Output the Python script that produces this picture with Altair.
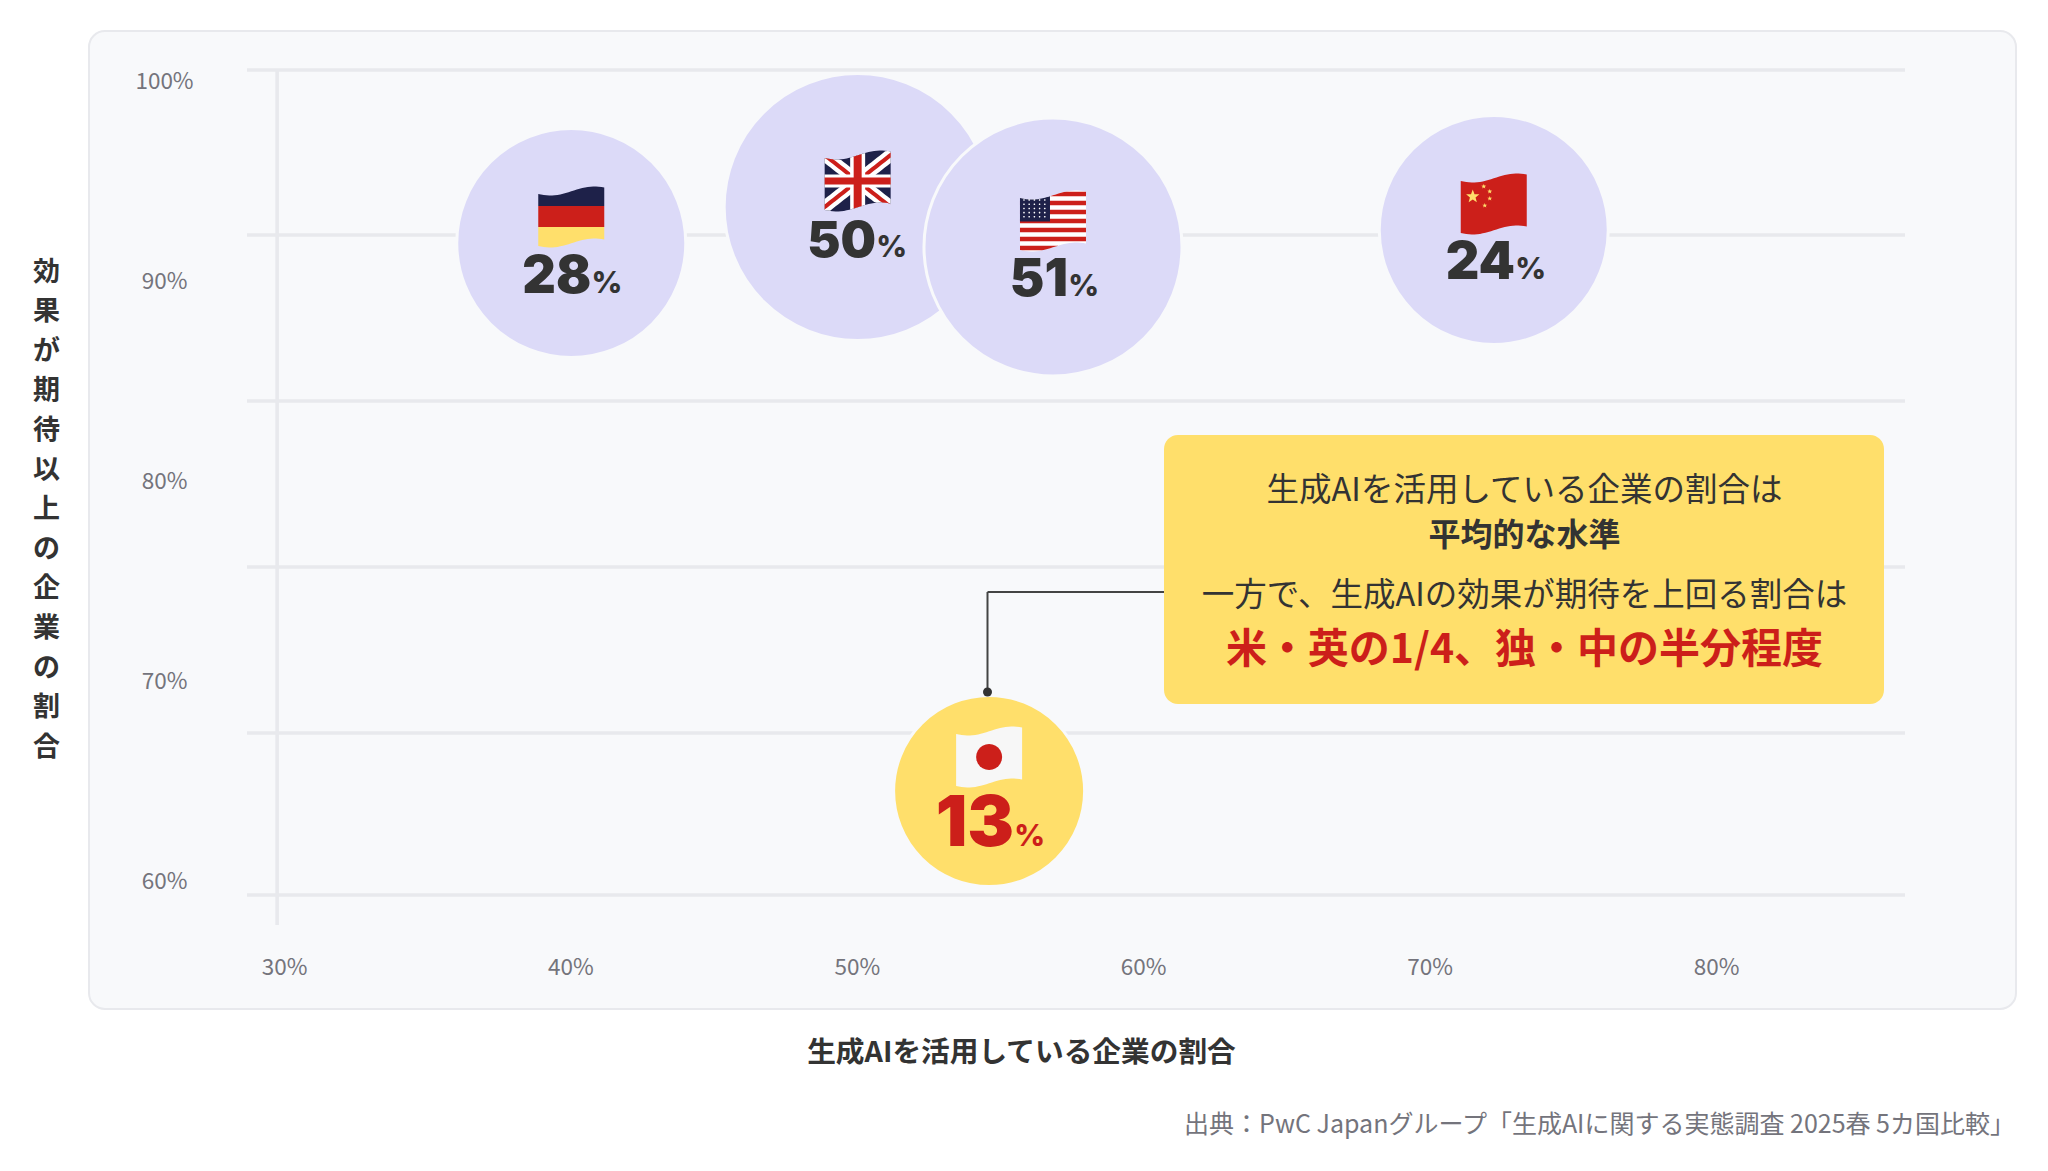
import math
import altair as alt
import pandas as pd

countries = ["ドイツ", "英国", "中国", "日本", "米国"]
adoption = [40.03, 50.03, 72.24, 54.62, 56.85]
effect = [91.9, 93.7, 92.55, 64.5, 91.7]
share = [28, 50, 24, 13, 51]
diameters = [226, 264, 226, 188, 255]
x_ticks = [30, 40, 50, 60, 70, 80]
y_ticks = [60, 70, 80, 90, 100]
grid_levels = [100.55, 92.3, 84.0, 75.7, 67.4, 59.3]
axis_line_at = [29.76]
x_title = "生成AIを活用している企業の割合"
y_title = list("効果が期待以上の企業の割合")
source_text = "出典：PwC Japanグループ「生成AIに関する実態調査 2025春 5カ国比較」"
card_lines = ["生成AIを活用している企業の割合は", "平均的な水準", "一方で、生成AIの効果が期待を上回る割合は", "米・英の1/4、独・中の半分程度"]

W, H = 2032, 1155
JP = "Noto Sans CJK JP"
NUM = "Inter"
DARK = "#333333"
RED = "#cc1f1a"
YEL = "#ffdf6b"
LAV = "#dcdaf8"
NAVY = "#1e2149"
LINE = "#e8e9ed"
GREY = "#74747c"
PANEL = "#f8f9fb"

def px(v):
    return v - 8

xscale = alt.Scale(domain=[30 - 276 / 28.64, 30 + 1756 / 28.64], range=[0, W], nice=False, zero=False, clamp=False)
yscale = alt.Scale(domain=[100 + 73 / 20, 100 - 1082 / 20], range=[0, H], nice=False, zero=False)
xaxis = alt.Axis(values=x_ticks, labelExpr="datum.value + '%'", grid=False, domain=False, ticks=False,
                 orient="bottom", offset=-196, labelPadding=0, labelBaseline="middle", labelFont=JP,
                 labelFontSize=22.5, labelColor=GREY, labelFontWeight=400, zindex=1,
                 title=x_title, titleFont=JP, titleFontSize=28.7, titleFontWeight=700, titleColor=DARK,
                 titleX=1013, titleY=85, titleBaseline="middle", titleAlign="center", labelFlush=False, labelOverlap=False)
yaxis = alt.Axis(values=y_ticks, labelExpr="datum.value + '%'", grid=False, domain=False, ticks=False,
                 orient="left", offset=-156, labelPadding=0, labelOffset=0.6, labelAlign="center", labelBaseline="middle", labelFont=JP,
                 labelFontSize=22.5, labelColor=GREY, labelFontWeight=400, zindex=1,
                 title=y_title, titleFont=JP, titleFontSize=27, titleFontWeight=700, titleColor=DARK,
                 titleX=-118, titleY=264, titleAngle=0, titleBaseline="middle", titleAlign="center",
                 titleLineHeight=39.6, labelFlush=False, labelOverlap=False)
X = alt.X("x:Q", scale=xscale, axis=xaxis)
Y = alt.Y("y:Q", scale=yscale, axis=yaxis)

bubbles = pd.DataFrame({"country": countries, "x": adoption, "y": effect, "share": share, "d": diameters})

# --- flag glyphs, drawn in px around the flag's centre, normalised to the -1..1 symbol box
FW = 66.0
def top_w(u, hh=26.0):
    t = (u + 33) / 66
    return -hh + 4.5 * math.cos(math.pi * (t - 0.18) / 0.67)
def bot_w(u, hh=26.0):
    return top_w(u, hh) + 2 * hh

def band(x0, x1, ftop, fbot, n=24, hh=26.0):
    us = [x0 + (x1 - x0) * i / n for i in range(n + 1)]
    up = [(u, max(ftop(u), top_w(u, hh))) for u in us]
    lo = [(u, min(fbot(u), bot_w(u, hh))) for u in us]
    lo = [(u, max(v, up[i][1])) for i, (u, v) in enumerate(lo)]
    pts = up + lo[::-1]
    return "M" + "L".join(f"{a/33:.3f},{b/33:.3f}" for a, b in pts) + "Z"

def rectband(y0, y1, x0=-33, x1=33, hh=26.0):
    return band(x0, x1, lambda u: y0, lambda u: y1, hh=hh)

def circle_path(cx, cy, r, n=24):
    return "M" + "L".join(f"{(cx+r*math.cos(2*math.pi*i/n))/33:.3f},{(cy+r*math.sin(2*math.pi*i/n))/33:.3f}" for i in range(n)) + "Z"

def star(cx, cy, r):
    pts = []
    for i in range(10):
        rr = r if i % 2 == 0 else r * 0.42
        a = -math.pi / 2 + i * math.pi / 5
        pts.append(f"{(cx+rr*math.cos(a))/33:.3f},{(cy+rr*math.sin(a))/33:.3f}")
    return "M" + "L".join(pts) + "Z"

def diag(sign, half):
    return band(-33, 33, lambda u: sign * u * 26 / 33 - half, lambda u: sign * u * 26 / 33 + half)

flags = {
    "ドイツ": [
        (rectband(-40, -11), NAVY),
        (rectband(-11, 10), RED),
        (rectband(10, 40), YEL),
    ],
    "英国": [
        (rectband(-40, 40), NAVY),
        (diag(1, 8), "#ffffff"),
        (diag(-1, 8), "#ffffff"),
        (diag(1, 2.6), RED),
        (diag(-1, 2.6), RED),
        (rectband(-40, 40, -7.5, 7.5), "#ffffff"),
        (rectband(-6.5, 6.5), "#ffffff"),
        (rectband(-40, 40, -4, 4), RED),
        (rectband(-3.5, 3.5), RED),
    ],
    "米国": [
        (rectband(-40, 40), "#ffffff"),
        ("".join(rectband(c - 2.3, c + 2.3) for c in [-27, -18, -9, 0, 9, 18, 27]), RED),
        (rectband(-40, 0.5, -33, -3), NAVY),
        ("".join(circle_path(-29 + 5.2 * i, -21 + 4.2 * j, 0.9, 6) for i in range(5) for j in range(5)), "#ffffff"),
    ],
    "中国": [
        (rectband(-40, 40), RED),
        (star(-21, -7.5, 7), YEL),
        ("".join(star(a, b, 2.6) for a, b in [(-10, -17.5), (-4, -12.5), (-4, -5.5), (-9, 1.5)]), YEL),
    ],
    "日本": [
        (rectband(-40, 40), "#f7f7f7"),
        (circle_path(0, 0, 13), RED),
    ],
}
flag_dy = {"ドイツ": -26, "英国": -26, "米国": -26, "中国": -26, "日本": -34}
num_end = {"ドイツ": 20, "英国": 18.5, "米国": 15, "中国": 21.2, "日本": 25}
num_size = {"ドイツ": 52, "英国": 50, "米国": 52, "中国": 52, "日本": 70}
pct_size = {"ドイツ": 30, "英国": 30, "米国": 30, "中国": 30, "日本": 30}
num_dy = {"ドイツ": 50, "英国": 50, "米国": 49, "中国": 49, "日本": 55}

layers = []
one = pd.DataFrame({"a": [0]})

# panel
layers.append(alt.Chart(one).mark_rect(fill=PANEL, stroke=LINE, strokeWidth=2, cornerRadius=16).encode(
    x=alt.value(px(89)), x2=alt.value(px(2016)), y=alt.value(px(31)), y2=alt.value(px(1009))))

# source text
layers.append(alt.Chart(one).mark_text(text=source_text, font=JP, fontSize=25, fontWeight=400, color=GREY, align="right", baseline="middle").encode(
    x=alt.value(px(2015)), y=alt.value(px(1125))))

# gridlines
layers.append(alt.Chart(pd.DataFrame({"y": grid_levels})).mark_rule(color=LINE, strokeWidth=3.6).encode(
    y=Y, x=alt.value(px(247)), x2=alt.value(px(1905))))
layers.append(alt.Chart(pd.DataFrame({"x": axis_line_at})).mark_rule(color=LINE, strokeWidth=3.6).encode(
    x=X, y=alt.value(px(69)), y2=alt.value(px(925))))

# bubbles
for i, c in enumerate(countries):
    row = bubbles[bubbles.country == c]
    d = diameters[i]
    sw = 3
    layers.append(alt.Chart(row).mark_circle(opacity=1, fill=YEL if c == "日本" else LAV, stroke=PANEL,
                                             strokeWidth=sw, size=(d + sw) ** 2).encode(x=X, y=Y))
    for path, col in flags[c]:
        layers.append(alt.Chart(row).mark_point(shape=path, filled=True, fill=col, opacity=1, strokeWidth=0,
                                                size=FW ** 2, yOffset=flag_dy[c]).encode(x=X, y=Y))
    col = RED if c == "日本" else DARK
    layers.append(alt.Chart(row).mark_text(font=NUM, fontWeight=900, fontSize=num_size[c], color=col, align="right",
                                           baseline="alphabetic", dx=num_end[c], dy=num_dy[c]).encode(x=X, y=Y, text=alt.Text("share:Q")))
    layers.append(alt.Chart(row).mark_text(text="%", font=NUM, fontWeight=800, fontSize=pct_size[c], color=col, align="left",
                                           baseline="alphabetic", dx=num_end[c] + 0.2, dy=num_dy[c]).encode(x=X, y=Y))

# connector
layers.append(alt.Chart(one).mark_rule(color="#444444", strokeWidth=2).encode(
    x=alt.value(px(987.5)), x2=alt.value(px(1165)), y=alt.value(px(592))))
layers.append(alt.Chart(one).mark_rule(color="#444444", strokeWidth=2).encode(
    x=alt.value(px(987.5)), y=alt.value(px(592)), y2=alt.value(px(692))))
layers.append(alt.Chart(one).mark_circle(color="#333333", opacity=1, size=81).encode(
    x=alt.value(px(987.5)), y=alt.value(px(692))))

# card
layers.append(alt.Chart(one).mark_rect(fill=YEL, cornerRadius=14).encode(
    x=alt.value(px(1164)), x2=alt.value(px(1884)), y=alt.value(px(435)), y2=alt.value(px(704))))
card_style = [(32.5, 400, DARK, 491), (32, 700, DARK, 536), (32.5, 400, DARK, 596), (41, 700, RED, 651)]
for line, (fs, fw, col, yy) in zip(card_lines, card_style):
    layers.append(alt.Chart(one).mark_text(text=line, font=JP, fontSize=fs, fontWeight=fw, color=col, align="center", baseline="middle").encode(
        x=alt.value(px(1524.5)), y=alt.value(px(yy))))

chart = alt.layer(*layers).properties(width=W, height=H, padding=0, background="#ffffff",
                                      autosize=alt.AutoSizeParams(type="none")).configure_view(stroke=None)
chart.save("out.html", embed_options={"renderer": "svg", "actions": False})
